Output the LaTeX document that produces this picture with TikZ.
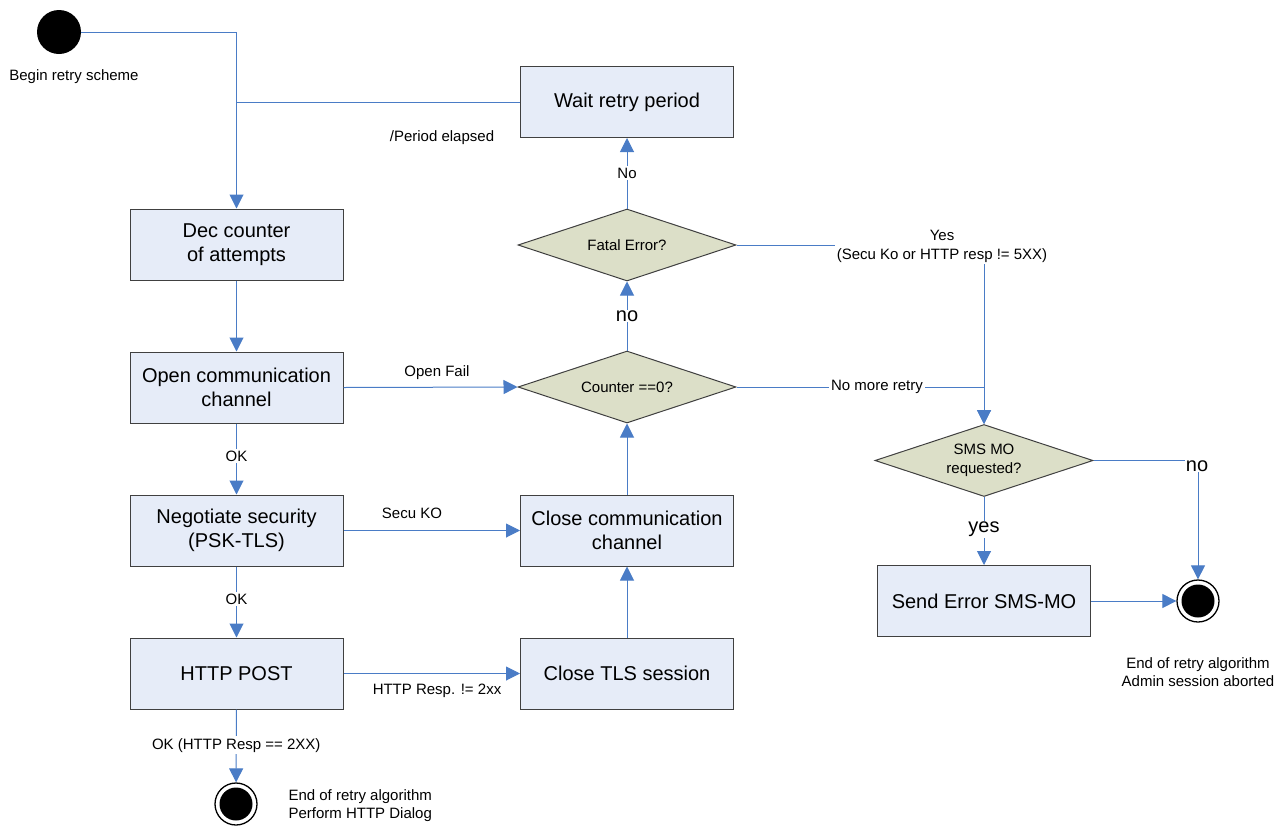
\documentclass[tikz,border=0pt]{standalone}
\usepackage{fontspec}
\setmainfont{Liberation Sans}
\usetikzlibrary{arrows.meta,shapes.geometric,calc}
\definecolor{linec}{HTML}{4A7CC6}
\definecolor{boxfill}{HTML}{E6ECF8}
\definecolor{decfill}{HTML}{DCDFC8}
\definecolor{bord}{HTML}{404040}
\tikzset{
  big/.style={font=\fontsize{20}{24}\selectfont},
  small/.style={font=\fontsize{15}{18.5}\selectfont},
  stbox/.style={rectangle, draw=bord, line width=1pt, fill=boxfill, minimum width=213pt, minimum height=71pt, align=center, big},
  dec/.style={diamond, draw=bord, line width=1pt, fill=decfill, minimum width=218pt, minimum height=72pt, inner sep=0pt, aspect=3, align=center, small},
  flow/.style={draw=linec, line width=1pt, -{Triangle[length=14pt,width=14pt]}},
  plain/.style={draw=linec, line width=1pt},
  lbl/.style={small, inner sep=1pt},
  onl/.style={fill=white, inner sep=2pt},
  initst/.style={circle, fill=black, minimum size=44pt, inner sep=0pt},
  endst/.style={circle, draw=black, line width=1.3pt, fill=white, minimum size=42pt, inner sep=0pt,
     path picture={\fill[black] (path picture bounding box.center) circle (16.5pt);}},
}
\begin{document}
\begin{tikzpicture}[x=1pt,y=-1pt]
\useasboundingbox (0,0) rectangle (1285,825);

% states
\node[initst] (start) at (59,32) {};
\node[small] (startlbl) at (74,77) {Begin retry scheme};

\node[stbox] (wait) at (627,102) {Wait retry period};
\node[stbox] (deccnt) at (236.5,244.5) {Dec counter\\of attempts};
\node[stbox] (open) at (236.5,387.5) {Open communication\\channel};
\node[stbox] (nego) at (236.5,530.5) {Negotiate security\\(PSK-TLS)};
\node[stbox] (post) at (236.5,673.5) {HTTP POST};
\node[stbox] (closec) at (627,530.5) {Close communication\\channel};
\node[stbox] (closet) at (627,673.5) {Close TLS session};
\node[stbox] (send) at (984,601) {Send Error SMS-MO};

\node[dec] (fatal) at (627,245) {Fatal Error?};
\node[dec] (counter) at (627,387) {Counter ==0?};
\node[dec] (sms) at (984,460.5) {SMS MO\\requested?};

\node[endst] (end1) at (236,804) {};
\node[small, anchor=west, align=left] (end1lbl) at (285,805.5) {End of retry algorithm\\Perform HTTP Dialog};
\node[endst] (end2) at (1198,601) {};
\node[small, align=center] (end2lbl) at (1198,672) {End of retry algorithm\\Admin session aborted};

% connectors
\draw[flow] (start.east) -| (deccnt.north);
\coordinate (join) at (wait.west -| deccnt.north);
\draw[plain] (wait.west) -- (join);
\node[lbl] (perlbl) at (442,138) {/Period elapsed};

\draw[flow] (deccnt) -- (open);
\draw[flow] (open) -- node[lbl, onl, pos=0.46] {OK} (nego);
\draw[flow] (nego) -- node[lbl, onl, pos=0.46] {OK} (post);
\draw[flow] (post) -- node[lbl, onl, pos=0.49] {OK (HTTP Resp == 2XX)} (end1);

\draw[flow] (open.east) -- (counter.west);
\node[lbl] (openfail) at (437,373) {Open Fail};
\draw[flow] (nego.east) -- (closec.west);
\node[lbl] (secuko) at (412,513) {Secu KO};
\draw[flow] (post.east) -- (closet.west);
\node[lbl] (httpresp) at (437,691) {HTTP Resp. != 2xx};

\draw[flow] (closet) -- (closec);
\draw[flow] (closec) -- (counter);
\draw[flow] (counter) -- node[onl, big, inner sep=1pt, pos=0.5] {no} (fatal);
\draw[flow] (fatal) -- node[lbl, onl, pos=0.5] {No} (wait);

\draw[flow] (counter.east) -| (sms.north);
\node[lbl, onl] (nomore) at (877,387) {No more retry};
\draw[flow] (fatal.east) -| (sms.north);
\node[lbl, onl, align=center] (yeslbl) at (942,246.5) {Yes\\(Secu Ko or HTTP resp != 5XX)};

\draw[flow] (sms.south) -- node[onl, big, inner sep=1pt, pos=0.48] {yes} (send.north);
\draw[flow] (sms.east) -| (end2.north);
\node[onl, big, inner sep=1pt] (nolbl) at (1197,466) {no};
\draw[flow] (send.east) -- (end2.west);
\end{tikzpicture}
\end{document}
